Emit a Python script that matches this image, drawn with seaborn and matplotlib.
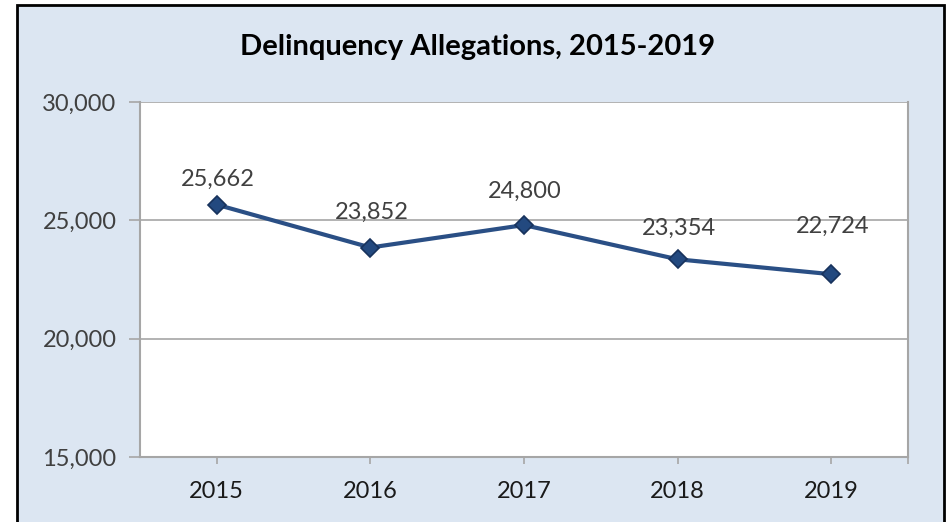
import matplotlib
matplotlib.use("Agg")
import matplotlib.pyplot as plt
import seaborn as sns
import pandas as pd
from matplotlib.patches import Rectangle
from matplotlib.ticker import FuncFormatter, FixedLocator

years = ["2015", "2016", "2017", "2018", "2019"]
allegations = [25662, 23852, 24800, 23354, 22724]
title = "Delinquency Allegations, 2015-2019"

df = pd.DataFrame({"year": years, "value": allegations})

sns.set_theme(style="white")
plt.rcParams["font.family"] = ["Lato", "DejaVu Sans"]

fig = plt.figure(figsize=(9.51, 5.22), dpi=100, facecolor="white")
# outer chart area with black border
bg = Rectangle((17 / 951, -0.05), (944 - 17) / 951, 1.05 - 5 / 522,
               transform=fig.transFigure, facecolor="#DCE6F2",
               edgecolor="black", linewidth=2, zorder=-10)
fig.patches.append(bg)

ax = fig.add_axes([140 / 951, 1 - 457 / 522, 768 / 951, 355 / 522])
ax.set_zorder(2)
ax.set_facecolor("white")

sns.lineplot(data=df, x="year", y="value", ax=ax, color="#2A4F85",
             linewidth=3, marker="D", markersize=9,
             markerfacecolor="#23497F", markeredgecolor="#17325C",
             markeredgewidth=1.2, zorder=5)

ax.set_ylim(15000, 30000)
ax.set_xlim(-0.5, len(years) - 0.5)
ax.set_yticks([15000, 20000, 25000, 30000])
ax.yaxis.set_major_formatter(FuncFormatter(lambda v, p: f"{int(v):,}"))
ax.yaxis.grid(True, color="#A6A6A6", linewidth=1.2)
ax.set_axisbelow(True)
ax.set_xlabel("")
ax.set_ylabel("")

for s in ["left", "bottom", "right"]:
    ax.spines[s].set_visible(True)
    ax.spines[s].set_color("#A6A6A6")
    ax.spines[s].set_linewidth(1.5)
ax.spines["top"].set_visible(False)

ax.tick_params(axis="y", which="major", length=8, width=1.2, color="#A6A6A6",
               labelsize=17, labelcolor="#404040", pad=9, left=True)
ax.tick_params(axis="x", which="major", length=5, width=1.2, color="#A6A6A6",
               labelsize=17, labelcolor="#1a1a1a", pad=12, bottom=True)
ax.xaxis.set_minor_locator(FixedLocator([len(years) - 0.5]))
ax.tick_params(axis="x", which="minor", length=5, width=1.2, color="#A6A6A6", bottom=True)

label_offsets = [25, 35, 34, 31, 48]
for i, (v, off) in enumerate(zip(allegations, label_offsets)):
    ax.annotate(f"{v:,}", (i, v), xytext=(1, off), textcoords="offset pixels",
                ha="center", va="center", fontsize=17, color="#404040", zorder=6)

fig.text(478 / 951, 1 - 47 / 522, title, ha="center", va="center",
         fontsize=21, fontweight="bold", color="black")

fig.savefig("out.png", dpi=100, facecolor="white")
